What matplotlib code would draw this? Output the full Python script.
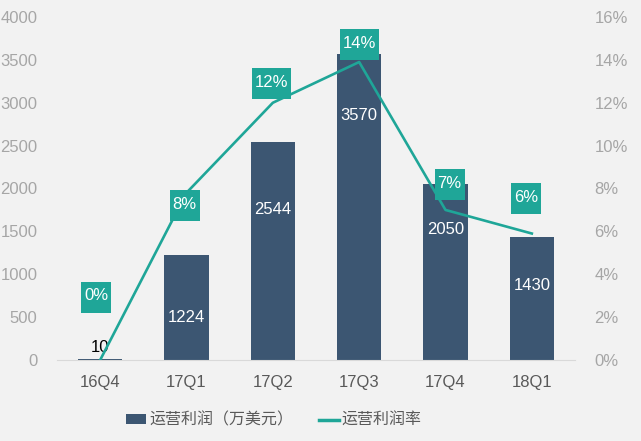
import matplotlib.pyplot as plt
from matplotlib.patches import Patch, Rectangle
from matplotlib.lines import Line2D
from matplotlib.transforms import Affine2D, ScaledTranslation

plt.rcParams['font.family'] = ['Liberation Sans', 'Noto Sans CJK SC', 'DejaVu Sans']

# data
quarters = ['16Q4', '17Q1', '17Q2', '17Q3', '17Q4', '18Q1']
profit = [10, 1224, 2544, 3570, 2050, 1430]          # 运营利润（万美元）
margin = [0.0, 7.8, 12.0, 13.9, 7.0, 5.9]           # 运营利润率 %
left_ticks = [0, 500, 1000, 1500, 2000, 2500, 3000, 3500, 4000]
right_ticks = [0, 2, 4, 6, 8, 10, 12, 14, 16]

# label placement tweaks (pixels)
bar_label_drop = [-12, 62, 68, 62, 45, 48]
box_offsets = [(-4, 63), (-2, -13), (-1, 19), (0, 18), (4, 25), (-6, 35)]

bar_color = '#3c5672'
line_color = '#1fa698'
bg = '#f2f2f2'
tick_gray = '#a6a6a6'
text_gray = '#595959'

fig = plt.figure(figsize=(6.41, 4.41), dpi=100, facecolor=bg)
ax = fig.add_axes([57 / 641, 81 / 441, 518 / 641, 343 / 441])
ax.set_facecolor(bg)

x = list(range(len(quarters)))
ax.bar(x, profit, width=0.51, color=bar_color, zorder=2)
ax.set_xlim(-0.5, len(quarters) - 0.5)
ax.set_ylim(0, 4000)
ax.set_yticks(left_ticks)
ax.set_xticks(x)
ax.set_xticklabels(quarters, fontsize=12, color=text_gray)
ax.tick_params(axis='y', length=0, labelsize=12, labelcolor=tick_gray, pad=14)
ax.tick_params(axis='x', length=0, pad=11)
for s in ['top', 'right', 'left']:
    ax.spines[s].set_visible(False)
ax.spines['bottom'].set_color('#d9d9d9')

for i, v in enumerate(profit):
    drop = bar_label_drop[i]
    col = 'black' if drop < 0 else 'white'
    ax.annotate(str(v), (i, v), xytext=(0, -drop), textcoords='offset pixels',
                ha='center', va='center', fontsize=12, color=col, zorder=4)

ax2 = ax.twinx()
ax2.set_ylim(0, 16)
ax2.set_yticks(right_ticks)
ax2.set_yticklabels([f'{t}%' for t in right_ticks])
ax2.tick_params(axis='y', length=0, labelsize=12, labelcolor=tick_gray, pad=14)
for s in ['top', 'right', 'left', 'bottom']:
    ax2.spines[s].set_visible(False)
ax2.plot(x, margin, color=line_color, linewidth=1.9, zorder=3)

for i, m in enumerate(margin):
    dx, dy = box_offsets[i]
    label = f'{round(m)}%'
    w = 12 + 9 * len(label)
    h = 31
    tr = Affine2D() + ScaledTranslation(i, m, ax2.transData)
    ax2.add_patch(Rectangle((dx - w / 2, dy - h / 2), w, h, transform=tr,
                            facecolor=line_color, edgecolor='none', zorder=5,
                            clip_on=False))
    ax2.annotate(label, (i, m), xytext=(dx, dy + 1), textcoords='offset pixels',
                 ha='center', va='center', fontsize=12, color='white', zorder=6)

handles = [Patch(facecolor=bar_color, edgecolor='none'),
           Line2D([0], [0], color=line_color, linewidth=2.5)]
fig.legend(handles, ['运营利润（万美元）', '运营利润率'], loc='center left',
           bbox_to_anchor=(126 / 641, 1 - 420 / 441), ncol=2, frameon=False,
           fontsize=11.5, labelcolor=text_gray, handlelength=1.25, handleheight=0.5,
           handletextpad=0.2, columnspacing=1.6, borderpad=0, borderaxespad=0)

fig.savefig('out.png', dpi=100, facecolor=bg)
